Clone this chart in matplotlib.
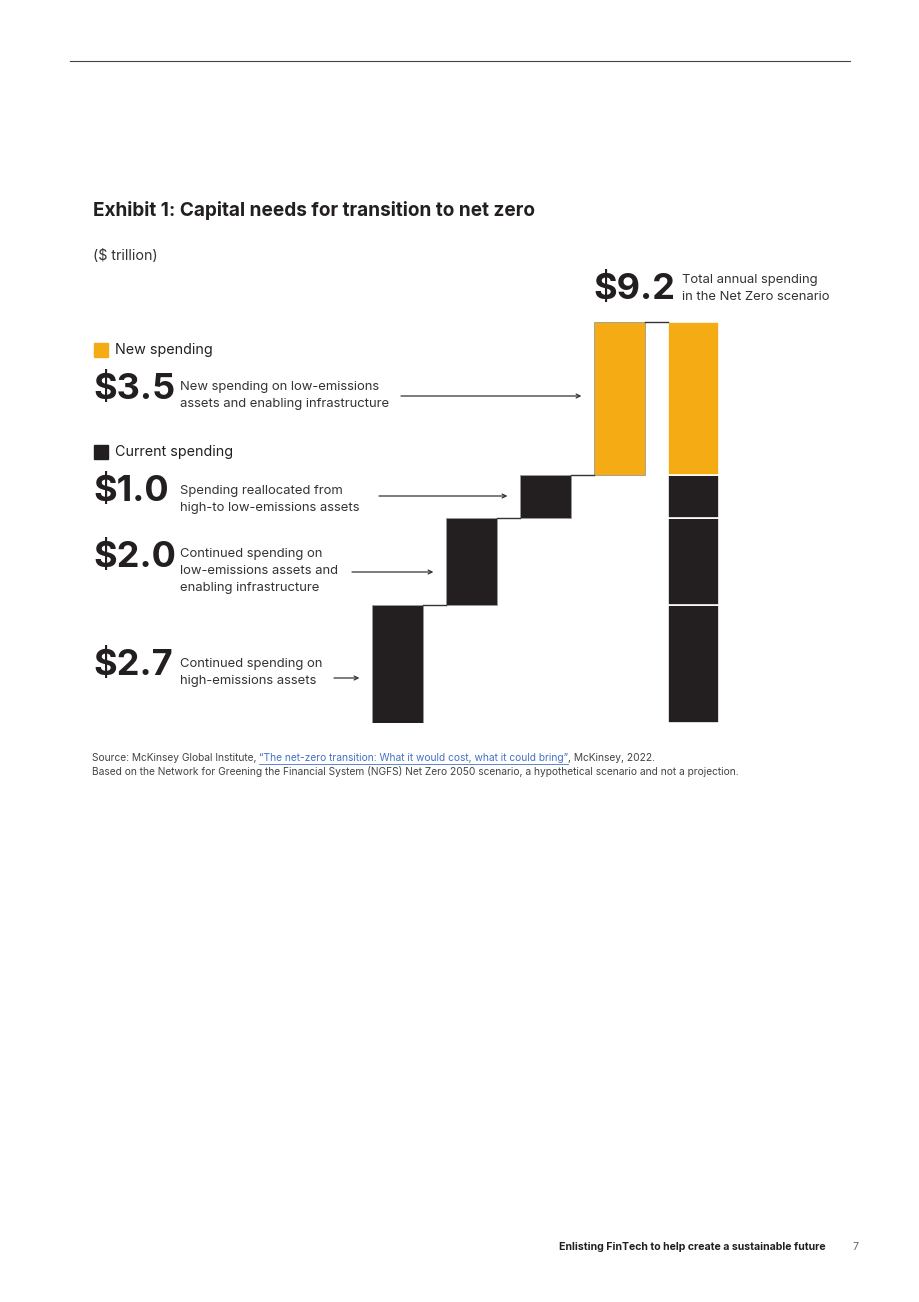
import numpy as np
import matplotlib
matplotlib.use("Agg")
from matplotlib import pyplot as plt

plt.rcParams['font.family'] = ['Inter', 'DejaVu Sans']

# data ($ trillion)
steps = [2.7, 2.0, 1.0, 3.5]
step_colors = ['#231f20', '#231f20', '#231f20', '#f5ab14']
amount_labels = ['$2.7', '$2.0', '$1.0', '$3.5']
descriptions = ['Continued spending on\nhigh-emissions assets',
                'Continued spending on\nlow-emissions assets and\nenabling infrastructure',
                'Spending reallocated from\nhigh-to low-emissions assets',
                'New spending on low-emissions\nassets and enabling infrastructure']
total = 9.2
total_label = '$9.2'
total_desc = 'Total annual spending\nin the Net Zero scenario'

W, H = 920, 1302
fig = plt.figure(figsize=(W / 100, H / 100), dpi=100)


def fx(x):
    return x / W


def fy(y):
    return 1 - y / H


def txt(x, y, s, **kw):
    return fig.text(fx(x), fy(y), s, **kw)


DARK = '#231f20'
DESC = 9.4
LS = 1.55

# top rule
fig.add_artist(plt.Line2D([fx(70), fx(850)], [fy(61), fy(61)], color='#444444', lw=0.8))

# bars axes: bar centres at 397.5 + 74*i px, y 0 at 723px, 9.2 at 322px
ax = fig.add_axes([fx(360.5), fy(723), 370 / W, 401 / H])
ax.set_xlim(-0.5, 4.5)
ax.set_ylim(0, total)
ax.axis('off')

width = 51 / 74
bottoms = np.concatenate([[0], np.cumsum(steps)[:-1]])
tops = np.cumsum(steps)
ax.bar(range(4), steps, bottom=bottoms, width=width, color=step_colors,
       edgecolor='#9a9a9a', linewidth=0.6)
ax.bar([4] * 4, steps, bottom=bottoms, width=width, color=step_colors,
       edgecolor='white', linewidth=1.2)

# connectors
for i in range(4):
    ax.plot([i + width / 2, i + 1 - width / 2], [tops[i], tops[i]],
            color='#333333', lw=1.0, clip_on=False)

# big numbers, descriptions and arrows
num_y = [665, 557, 491, 389]
desc_y = [672.5, 571, 499.5, 395.5]
arrow_x0 = [334, 352, 379, 401]
arrow_y = [678, 572, 496, 396]
for i in range(4):
    txt(93, num_y[i], amount_labels[i], fontsize=26, fontweight='bold',
        color=DARK, va='center', ha='left')
    txt(180, desc_y[i], descriptions[i], fontsize=DESC, color='#333333',
        va='center', ha='left', linespacing=LS)
    ax.annotate('', xy=(i - width / 2 - 0.17, H - arrow_y[i]),
                xycoords=('data', 'figure pixels'),
                xytext=(arrow_x0[i], H - arrow_y[i]), textcoords='figure pixels',
                arrowprops=dict(arrowstyle='->', color='#333333', lw=0.9,
                                shrinkA=0, shrinkB=0, mutation_scale=7))

txt(593, 290, total_label, fontsize=26, fontweight='bold', color=DARK,
    va='center', ha='left')
txt(682, 288.5, total_desc, fontsize=DESC, color='#333333', va='center',
    ha='left', linespacing=LS)

# legend
fig.add_artist(plt.Rectangle((fx(94), fy(357)), 14 / W, 14 / H, color='#f5ab14'))
txt(115, 350, 'New spending', fontsize=10.3, color=DARK, va='center')
fig.add_artist(plt.Rectangle((fx(94), fy(459)), 14 / W, 14 / H, color=DARK))
txt(115, 452, 'Current spending', fontsize=10.3, color=DARK, va='center')

# title
txt(93, 211, 'Exhibit 1: Capital needs for transition to net zero',
    fontsize=13.7, fontweight='bold', color=DARK, va='center')
txt(93, 256, '($ trillion)', fontsize=10.3, color='#333333', va='center')

# source
fig.canvas.draw()
r = fig.canvas.get_renderer()
src_kw = dict(fontsize=7.35, va='center', ha='left')
t1 = txt(92, 758, 'Source: McKinsey Global Institute, ', color='#444444', **src_kw)
x1 = 92 + t1.get_window_extent(r).width
t2 = txt(x1, 758, '\u201cThe net-zero transition: What it would cost, what it could bring\u201d',
         color='#4472c4', **src_kw)
x2 = x1 + t2.get_window_extent(r).width
fig.add_artist(plt.Line2D([fx(x1), fx(x2)], [fy(763.5), fy(763.5)], color='#4472c4', lw=0.6))
txt(x2, 758, ', McKinsey, 2022.', color='#444444', **src_kw)
txt(92, 771, 'Based on the Network for Greening the Financial System (NGFS) Net Zero 2050 '
    'scenario, a hypothetical scenario and not a projection.', color='#444444', **src_kw)

# footer
txt(826, 1247, 'Enlisting FinTech to help create a sustainable future', fontsize=7.6,
    fontweight='bold', color=DARK, va='center', ha='right')
txt(855, 1247, '7', fontsize=7.6, color='#666666', va='center', ha='center')

fig.savefig('out.png', dpi=100, facecolor='white')
